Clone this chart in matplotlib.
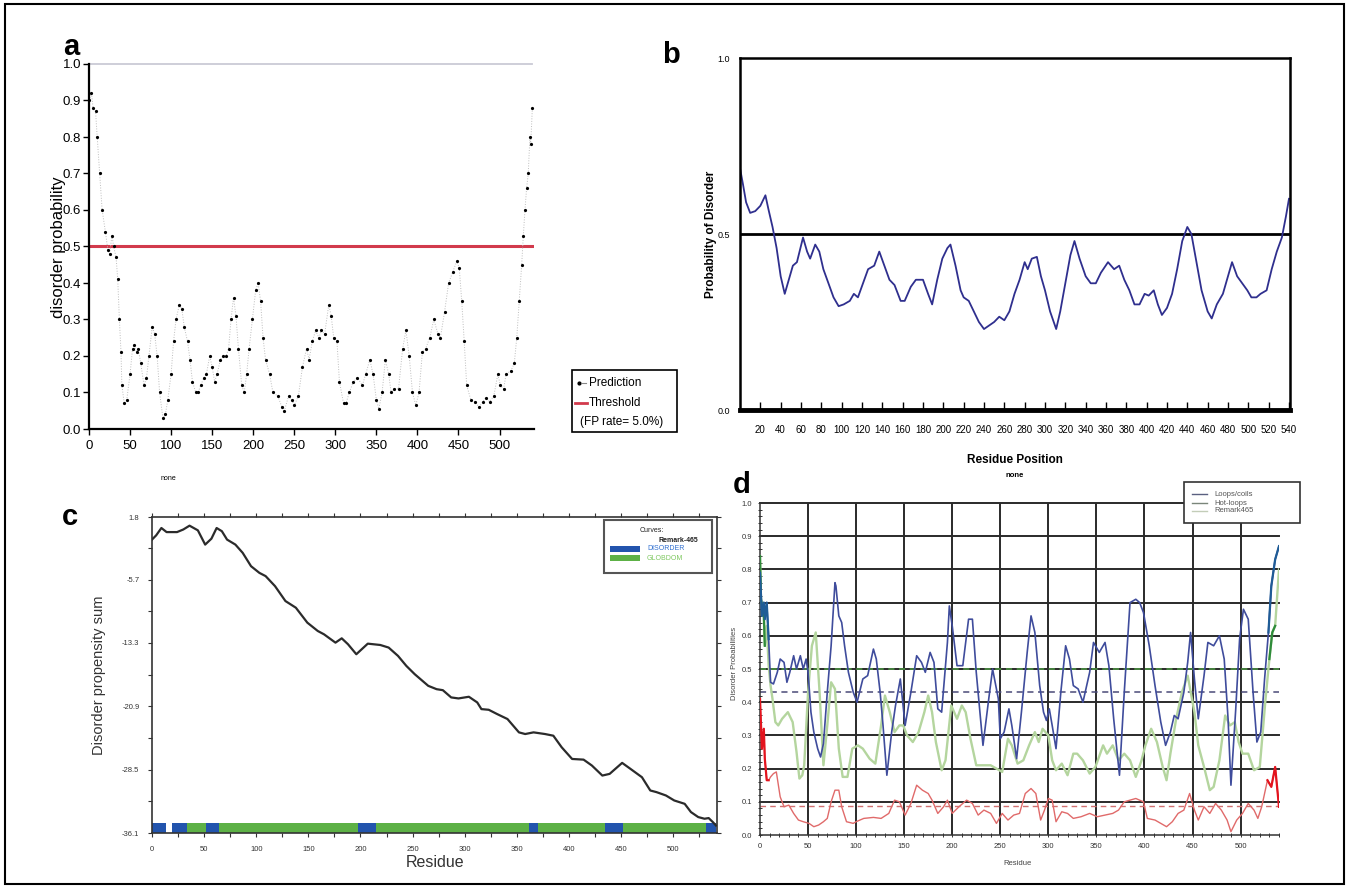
import numpy as np
import matplotlib
matplotlib.use('Agg')
import matplotlib.pyplot as plt
from matplotlib.patches import Rectangle
from matplotlib.lines import Line2D
from matplotlib.ticker import MultipleLocator, FixedLocator, FormatStrFormatter

plt.rcParams['font.family'] = ['Liberation Sans', 'DejaVu Sans']

# ---- panel a: disorder probability (PrDOS style)
a_res = [0,3,5,8,10,13,16,20,23,25,28,30,33,35,37,39,40,43,46,50,53,55,58,60,63,67,70,73,77,80,
         83,86,90,93,96,100,103,106,110,113,116,120,123,126,130,133,136,140,143,147,150,153,156,160,163,167,170,173,176,179,
         182,186,189,192,195,199,203,206,209,212,215,220,224,230,235,238,243,247,250,255,260,265,268,272,276,280,283,287,292,295,
         298,302,305,310,313,317,322,327,333,337,342,346,350,353,357,361,365,368,372,377,382,386,390,394,398,402,406,410,415,420,
         425,428,433,438,443,448,451,454,457,460,465,470,475,480,483,488,493,498,501,505,508,514,518,521,524,527,529,531,533,535,
         537,538,540]
a_prob = [0.90,0.92,0.88,0.87,0.80,0.70,0.60,0.54,0.49,0.48,0.53,0.50,0.47,0.41,0.30,0.21,0.12,0.07,0.08,0.15,
          0.22,0.23,0.21,0.22,0.18,0.12,0.14,0.20,0.28,0.26,0.20,0.10,0.03,0.04,0.08,0.15,0.24,0.30,0.34,0.33,
          0.28,0.24,0.19,0.13,0.10,0.10,0.12,0.14,0.15,0.20,0.17,0.13,0.15,0.19,0.20,0.20,0.22,0.30,0.36,0.31,
          0.22,0.12,0.10,0.15,0.22,0.30,0.38,0.40,0.35,0.25,0.19,0.15,0.10,0.09,0.06,0.05,0.09,0.08,0.065,0.09,
          0.17,0.22,0.19,0.24,0.27,0.25,0.27,0.26,0.34,0.31,0.25,0.24,0.13,0.07,0.07,0.10,0.13,0.14,0.12,0.15,
          0.19,0.15,0.08,0.055,0.10,0.19,0.15,0.10,0.11,0.11,0.22,0.27,0.20,0.10,0.065,0.10,0.21,0.22,0.25,0.30,
          0.26,0.25,0.32,0.40,0.43,0.46,0.44,0.35,0.24,0.12,0.08,0.075,0.06,0.075,0.085,0.075,0.09,0.15,0.12,0.11,
          0.15,0.16,0.18,0.25,0.35,0.45,0.53,0.60,0.66,0.70,0.80,0.78,0.88]
a_threshold = 0.5

# ---- panel b: probability of disorder
b_res = [0,3,6,10,15,20,25,28,32,36,40,44,48,52,56,62,66,69,74,78,82,87,92,97,102,108,112,116,121,126,
         132,137,142,147,152,158,162,168,173,180,185,189,194,199,204,207,212,217,220,225,230,235,240,245,250,255,260,265,270,275,
         280,283,287,292,296,300,305,311,315,320,325,329,334,340,345,350,355,362,368,373,378,383,388,393,398,402,407,411,415,420,
         425,430,435,440,444,449,454,460,464,469,475,480,484,489,494,499,503,508,512,518,523,528,533,537,540]
b_prob = [0.687,0.64,0.59,0.56,0.565,0.58,0.61,0.57,0.52,0.46,0.38,0.33,0.37,0.41,0.42,0.49,0.45,0.43,0.47,0.45,
          0.40,0.36,0.32,0.295,0.30,0.31,0.33,0.32,0.36,0.40,0.41,0.45,0.41,0.37,0.355,0.31,0.31,0.35,0.37,0.37,
          0.33,0.30,0.37,0.43,0.46,0.47,0.41,0.34,0.32,0.31,0.28,0.25,0.23,0.24,0.25,0.265,0.255,0.28,0.33,0.37,
          0.42,0.40,0.43,0.435,0.38,0.34,0.28,0.23,0.28,0.36,0.44,0.48,0.43,0.38,0.36,0.36,0.39,0.42,0.40,0.41,
          0.37,0.34,0.30,0.30,0.33,0.325,0.34,0.30,0.27,0.29,0.33,0.40,0.48,0.52,0.50,0.42,0.34,0.28,0.26,0.30,
          0.33,0.38,0.42,0.38,0.36,0.34,0.32,0.32,0.33,0.34,0.40,0.45,0.49,0.55,0.60]

# ---- panel c: GlobPlot disorder propensity sum
c_res = [0,4,9,14,24,30,36,44,51,57,62,67,72,80,87,95,103,109,118,128,
         138,149,159,165,176,182,188,196,207,219,227,236,244,252,265,273,279,287,294,304,
         312,316,323,331,341,352,358,366,377,385,393,403,414,422,432,439,451,459,470,478,
         484,493,501,511,517,524,530,534,538,541]
c_sum = [-0.91,-0.4,0.48,-0.01,-0.01,0.3,0.76,0.2,-1.51,-0.8,0.48,0.1,-0.91,-1.51,-2.5,-4.1,-4.9,-5.29,-6.49,-8.28,
         -9.08,-10.87,-11.87,-12.27,-13.27,-12.75,-13.46,-14.66,-13.39,-13.55,-13.86,-14.86,-16.06,-17.05,-18.45,-18.85,-18.97,-19.84,-19.96,-19.76,
         -20.44,-21.24,-21.32,-21.83,-22.43,-24.03,-24.23,-24.03,-24.23,-24.43,-25.82,-27.22,-27.30,-28.01,-29.21,-29.01,-27.69,-28.41,-29.41,-31.0,
         -31.2,-31.6,-32.2,-32.6,-33.59,-34.19,-34.39,-34.31,-34.79,-35.2]
c_yticks = [-36.1, -28.5, -20.9, -13.3, -5.7, 1.8]
c_disorder = [(0, 13), (19.5, 33.5), (52, 64), (198, 215), (362, 370), (435, 452), (531, 541)]
c_globdom = [(33.5, 531)]

# ---- panel d: DisEMBL
d_coil_res = [0,2,4,5,7,9,11,14,18,21,25,28,31,35,38,42,45,48,50,53,
              56,60,63,66,70,74,78,79,82,85,88,92,97,101,107,112,118,121,125,128,
              132,137,141,146,151,157,163,168,172,177,181,185,189,195,197,200,205,211,217,221,
              225,232,238,242,248,250,254,259,262,267,272,278,282,286,291,295,298,301,304,308,
              313,318,322,326,331,336,343,347,353,359,363,368,374,379,385,391,395,399,405,411,
              417,422,427,431,435,441,445,448,452,456,462,466,472,478,483,487,490,495,499,503,
              508,513,517,521,525,529,532,536,540]
d_coil = [0.79,0.66,0.70,0.65,0.70,0.59,0.46,0.455,0.49,0.53,0.52,0.46,0.49,0.54,0.50,0.54,0.50,0.53,0.49,0.37,
          0.31,0.26,0.235,0.275,0.43,0.57,0.76,0.75,0.66,0.64,0.57,0.49,0.43,0.40,0.47,0.48,0.56,0.53,0.43,0.33,
          0.18,0.31,0.39,0.47,0.33,0.43,0.54,0.52,0.49,0.55,0.52,0.38,0.37,0.58,0.69,0.63,0.51,0.51,0.65,0.65,
          0.49,0.27,0.41,0.50,0.41,0.29,0.31,0.38,0.33,0.23,0.37,0.55,0.66,0.61,0.45,0.37,0.345,0.38,0.33,0.26,
          0.43,0.57,0.53,0.45,0.44,0.40,0.49,0.58,0.55,0.58,0.51,0.35,0.18,0.43,0.70,0.71,0.70,0.67,0.57,0.45,
          0.34,0.27,0.31,0.36,0.35,0.43,0.52,0.61,0.47,0.35,0.48,0.58,0.57,0.60,0.53,0.35,0.15,0.38,0.59,0.68,
          0.65,0.43,0.28,0.31,0.47,0.61,0.75,0.83,0.87]
d_hot_res = [0,2,4,5,7,9,11,14,17,21,25,30,35,40,45,51,56,61,66,70,
             74,78,82,85,90,97,100,108,118,126,134,140,145,151,157,163,169,175,179,185,
             191,195,200,207,215,221,227,233,240,246,252,258,264,270,276,282,287,292,296,300,
             304,308,314,320,326,334,343,351,359,367,373,379,385,391,399,403,411,417,423,429,
             435,441,447,452,456,462,468,474,480,486,490,496,502,508,514,518,522,528,532,536,540]
d_hot = [0.41,0.26,0.32,0.23,0.165,0.165,0.175,0.185,0.19,0.115,0.085,0.09,0.065,0.045,0.04,0.035,0.025,0.03,0.04,0.05,
         0.10,0.135,0.135,0.085,0.04,0.035,0.04,0.05,0.053,0.05,0.065,0.105,0.10,0.06,0.095,0.15,0.135,0.125,0.105,0.065,
         0.085,0.105,0.065,0.085,0.105,0.095,0.06,0.075,0.065,0.035,0.065,0.045,0.06,0.065,0.125,0.14,0.125,0.045,0.075,0.11,
         0.105,0.04,0.07,0.065,0.05,0.055,0.065,0.055,0.06,0.065,0.075,0.10,0.105,0.11,0.10,0.05,0.045,0.035,0.025,0.04,
         0.065,0.075,0.125,0.075,0.045,0.085,0.065,0.095,0.075,0.045,0.01,0.045,0.065,0.095,0.075,0.05,0.085,0.165,0.145,0.205,0.085]
d_rem_res = [0,1,4,5,7,9,11,13,16,19,23,29,34,38,41,44,46,50,54,58,
             62,66,70,74,78,82,86,91,96,102,107,114,120,126,130,135,140,145,149,153,
             159,165,171,175,179,183,189,193,199,205,210,214,219,225,233,240,246,252,258,262,
             268,274,280,286,290,294,300,304,308,314,320,326,330,336,343,349,357,361,367,373,
             379,385,391,397,401,407,413,419,423,427,433,439,445,452,456,462,468,472,478,484,
             489,494,498,502,508,514,520,526,530,533,536,540]
d_rem = [0.84,0.71,0.66,0.57,0.63,0.51,0.45,0.41,0.34,0.33,0.35,0.37,0.34,0.25,0.17,0.18,0.21,0.43,0.57,0.61,
         0.43,0.21,0.33,0.46,0.44,0.26,0.175,0.175,0.26,0.27,0.26,0.23,0.215,0.33,0.42,0.37,0.31,0.33,0.33,0.30,
         0.28,0.31,0.37,0.42,0.37,0.28,0.195,0.225,0.39,0.35,0.39,0.37,0.29,0.21,0.21,0.21,0.20,0.19,0.29,0.27,
         0.215,0.225,0.27,0.31,0.28,0.32,0.30,0.225,0.195,0.215,0.18,0.245,0.245,0.225,0.185,0.205,0.27,0.245,0.27,0.225,
         0.245,0.225,0.175,0.225,0.27,0.32,0.28,0.205,0.165,0.245,0.35,0.43,0.48,0.37,0.27,0.205,0.135,0.145,0.225,0.36,
         0.33,0.34,0.28,0.245,0.245,0.195,0.205,0.41,0.53,0.61,0.63,0.80]
d_thresholds = {'coil': 0.43, 'hot': 0.086, 'rem': 0.5}
# residue ranges predicted disordered at the termini (drawn darker)
d_coil_dis = [(0, 9), (529, 540)]
d_hot_dis = [(0, 9), (528, 540)]
d_rem_dis = [(0, 5), (530, 536)]

W, H = 1349, 888
fig = plt.figure(figsize=(W / 100, H / 100), dpi=100)


def box(l, t, r, b):
    return [l / W, 1 - b / H, (r - l) / W, (b - t) / H]


def fx(x):
    return x / W


def fy(y):
    return 1 - y / H


def ftext(x, y, s, **kw):
    fig.text(fx(x), fy(y), s, **kw)


def frect(l, t, r, b, **kw):
    fig.add_artist(Rectangle((fx(l), fy(b)), (r - l) / W, (b - t) / H,
                             transform=fig.transFigure, **kw))


def fline(x0, x1, y, **kw):
    fig.add_artist(Line2D([fx(x0), fx(x1)], [fy(y), fy(y)], transform=fig.transFigure, **kw))


def dark_parts(ax, res, vals, ranges, **kw):
    res = np.asarray(res)
    vals = np.asarray(vals)
    for lo, hi in ranges:
        m = (res >= lo) & (res <= hi)
        ax.plot(res[m], vals[m], **kw)


# outer frame
frect(5, 4, 1344, 884, fill=False, ec='black', lw=1.5)

# ================= a
ax = fig.add_axes(box(89, 64, 534, 429))
ax.plot([0, 540], [1.0, 1.0], color='#cacad6', lw=1.3, clip_on=False)
ax.plot([0, 540], [a_threshold, a_threshold], color='#d23a4c', lw=2.2)
ax.plot(a_res, a_prob, color='#bdbdbd', lw=0.7, ls=':')
ax.plot(a_res, a_prob, ls='none', marker='o', ms=2.3, color='black', mew=0)
ax.set_xlim(0, 542)
ax.set_ylim(0, 1.0)
for s in ['top', 'right']:
    ax.spines[s].set_visible(False)
for s in ['left', 'bottom']:
    ax.spines[s].set_linewidth(1.6)
ax.set_xticks(range(0, 501, 50))
ax.set_yticks(np.arange(0, 1.01, 0.1))
ax.yaxis.set_major_formatter(FormatStrFormatter('%.1f'))
ax.tick_params(length=4, width=1, labelsize=9.5, pad=1.5)
ax.tick_params(axis='x', pad=4)
ftext(58, 247, 'disorder probability', rotation=90, ha='center', va='center', fontsize=12)
ftext(168, 478, 'none', ha='center', va='center', fontsize=5)
ftext(71, 47, 'a', ha='center', va='center', fontsize=21, fontweight='bold')

# legend a
frect(572, 370, 677, 432, fill=True, fc='white', ec='black', lw=1.2)
fig.add_artist(Line2D([fx(579)], [fy(383)], marker='o', ms=2, color='black', transform=fig.transFigure))
fline(582, 586, 383, color='#888888', lw=0.8)
fline(575, 587, 403, color='#d23a4c', lw=2)
ftext(589, 383, 'Prediction', va='center', fontsize=8.5)
ftext(589, 403, 'Threshold', va='center', fontsize=8.5)
ftext(580, 422, '(FP rate= 5.0%)', va='center', fontsize=8.5)

# ================= b
ax = fig.add_axes(box(740, 58, 1290, 410))
ax.axhline(0.5, color='black', lw=2)
ax.plot(b_res, b_prob, color='#2f2f8e', lw=1.3)
ax.set_xlim(0, 541)
ax.set_ylim(0, 1)
for s in ['top', 'right', 'left']:
    ax.spines[s].set_linewidth(1.8)
ax.spines['bottom'].set_linewidth(3.5)
ax.set_xticks(range(20, 541, 20))
ax.set_yticks([0, 0.5, 1.0])
ax.set_yticklabels(['0.0', '0.5', '1.0'])
ax.tick_params(axis='x', direction='in', length=6, width=1, labelsize=7, pad=11)
ax.tick_params(axis='y', length=0, labelsize=6.5, pad=7)
ftext(711, 234, 'Probability of Disorder', rotation=90, ha='center', va='center',
      fontsize=8.5, fontweight='bold')
ftext(1015, 460, 'Residue Position', ha='center', va='center', fontsize=8.5, fontweight='bold')
ftext(1015, 475, 'none', ha='center', va='center', fontsize=5.5, fontweight='bold')
ftext(671, 55, 'b', ha='center', va='center', fontsize=21, fontweight='bold')

# ================= c
ax = fig.add_axes(box(152, 517, 717, 833))
ax.plot(c_res, c_sum, color='#2b2b2b', lw=1.6, zorder=3)
ax.broken_barh([(s, e - s) for s, e in c_globdom], (-36.1, 1.15), facecolors='#5db146', zorder=2)
ax.broken_barh([(s, e - s) for s, e in c_disorder], (-36.1, 1.15), facecolors='#2254ad', zorder=2)
ax.set_xlim(0, 542)
ax.set_ylim(-36.1, 1.8)
ax.set_yticks(c_yticks)
ax.set_yticklabels(['%.1f' % v for v in c_yticks])
ax.yaxis.set_minor_locator(FixedLocator([(p + q) / 2 for p, q in zip(c_yticks[:-1], c_yticks[1:])]))
ax.set_xticks(range(0, 501, 50))
ax.xaxis.set_minor_locator(MultipleLocator(25))
for s in ax.spines.values():
    s.set_linewidth(1.2)
    s.set_color('#333333')
ax.tick_params(which='both', top=True, right=True, direction='out', length=3, width=0.8,
               colors='#333333', labelsize=5.5, pad=6)
ftext(99, 675, 'Disorder propensity sum', rotation=90, ha='center', va='center',
      fontsize=10.5, color='#333333')
ftext(435, 862, 'Residue', ha='center', va='center', fontsize=11.5, color='#333333')
ftext(70, 517, 'c', ha='center', va='center', fontsize=21, fontweight='bold')

# legend c
frect(604, 520, 712, 573, fill=True, fc='white', ec='#555555', lw=1.5)
ftext(652, 530, 'Curves:', ha='center', va='center', fontsize=5, color='#222222')
ftext(678, 540, 'Remark-465', ha='center', va='center', fontsize=5, color='#222222', fontweight='bold')
frect(610, 546, 640, 552, fc='#2254ad', ec='none')
frect(610, 555, 640, 561, fc='#5db146', ec='none')
ftext(647, 549, 'DISORDER', va='center', fontsize=5, color='#2f6fd0')
ftext(647, 558, 'GLOBDOM', va='center', fontsize=5, color='#7ec860')

# ================= d
ax = fig.add_axes(box(760, 503, 1279, 835))
for v in range(50, 501, 50):
    ax.axvline(v, color='#2a2a2a', lw=1.4, zorder=1)
for h in np.arange(0.1, 1.01, 0.1):
    ax.axhline(h, color='#2a2a2a', lw=1.4, zorder=1, clip_on=False)
ax.axhline(d_thresholds['rem'], color='#4e9a45', lw=1.1, ls=(0, (4, 3)), zorder=2)
ax.axhline(d_thresholds['coil'], color='#4a4a78', lw=1.1, ls=(0, (4, 3)), zorder=2)
ax.axhline(d_thresholds['hot'], color='#d07070', lw=1.0, ls=(0, (4, 3)), zorder=2)
ax.plot(d_rem_res, d_rem, color='#b4d59e', lw=1.7, zorder=3)
ax.plot(d_coil_res, d_coil, color='#3f4c9c', lw=1.2, zorder=4)
ax.plot(d_hot_res, d_hot, color='#e06a6a', lw=1.0, zorder=4)
dark_parts(ax, d_rem_res, d_rem, d_rem_dis, color='#2e8b3a', lw=1.6, zorder=5)
dark_parts(ax, d_coil_res, d_coil, d_coil_dis, color='#1f5c96', lw=1.6, zorder=5)
dark_parts(ax, d_hot_res, d_hot, d_hot_dis, color='#e3141e', lw=1.6, zorder=5)
ax.set_xlim(0, 540)
ax.set_ylim(0, 1)
for s in ['top', 'right']:
    ax.spines[s].set_visible(False)
for s in ['left', 'bottom']:
    ax.spines[s].set_linewidth(1.1)
    ax.spines[s].set_color('#333333')
ax.set_xticks(range(0, 501, 50))
ax.xaxis.set_minor_locator(MultipleLocator(10))
ax.set_yticks(np.arange(0, 1.01, 0.1))
ax.yaxis.set_minor_locator(MultipleLocator(0.02))
ax.yaxis.set_major_formatter(FormatStrFormatter('%.1f'))
ax.tick_params(which='both', direction='inout', length=3, width=0.7, colors='#333333',
               labelsize=5.5, pad=4)
ftext(735, 663, 'Disorder Probabilities', rotation=90, ha='center', va='center',
      fontsize=5.5, color='#444444')
ftext(1018, 863, 'Residue', ha='center', va='center', fontsize=5.5, color='#444444')
ftext(742, 485, 'd', ha='center', va='center', fontsize=21, fontweight='bold')

# legend d
frect(1184, 482, 1300, 523, fill=True, fc='white', ec='#333333', lw=1.2)
fline(1192, 1207, 494, color='#5a6080', lw=1)
fline(1192, 1207, 503, color='#7a857a', lw=1)
fline(1192, 1207, 511, color='#c3cdb8', lw=1)
ftext(1214, 494, 'Loops/coils', va='center', fontsize=5.5, color='#555555')
ftext(1214, 503, 'Hot-loops', va='center', fontsize=5.5, color='#555555')
ftext(1214, 511, 'Remark465', va='center', fontsize=5.5, color='#555555')

fig.savefig('out.png', dpi=100)
